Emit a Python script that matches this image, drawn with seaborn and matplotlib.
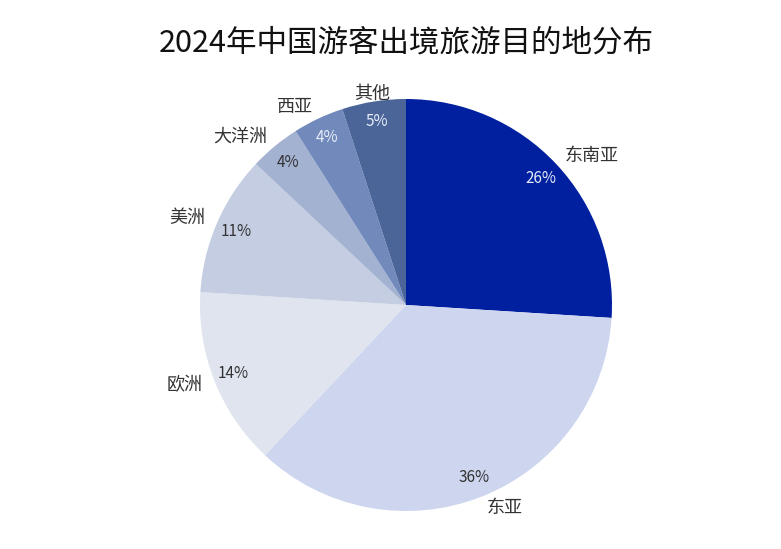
import matplotlib
matplotlib.use('Agg')
import matplotlib.pyplot as plt
import seaborn as sns

# 2024 outbound destinations (share, %)
regions = ['东南亚', '东亚', '欧洲', '美洲', '大洋洲', '西亚', '其他']
shares = [26, 36, 14, 11, 4, 4, 5]
colors = ['#0020a0', '#cdd5ef', '#dfe4ef', '#c4cde1', '#a3b2d1', '#7189bb', '#4b6599']
pct_colors = ['#e6ebf7', '#333333', '#333333', '#333333', '#333333', '#e6ebf7', '#e6ebf7']

sns.set_theme(style='white')
plt.rcParams['font.family'] = ['Noto Sans CJK SC', 'DejaVu Sans']

fig = plt.figure(figsize=(7.81, 5.49), dpi=100)
ax = fig.add_axes([200 / 781, 38 / 549, 412 / 781, 412 / 549])

wedges, texts, autotexts = ax.pie(
    shares, labels=regions, colors=colors, startangle=90, counterclock=False,
    autopct='%.0f%%', pctdistance=0.9, labeldistance=1.06,
    wedgeprops=dict(linewidth=0), textprops=dict(fontsize=13, color='#333333'))
for t, c in zip(autotexts, pct_colors):
    t.set_color(c)
    t.set_fontsize(11)
# labels near the top sit centred over their slice
for t in texts:
    x, y = t.get_position()
    if abs(x) < 0.3:
        t.set_ha('center')
        t.set_position((x, y - 0.02))

ax.set_xlim(-1, 1)
ax.set_ylim(-1, 1)
ax.set_aspect('equal')
ax.axis('off')

fig.text(406 / 781, 0.921, '2024年中国游客出境旅游目的地分布', ha='center', va='center',
         fontsize=22, color='#111111')
fig.savefig('out.png', dpi=100)
